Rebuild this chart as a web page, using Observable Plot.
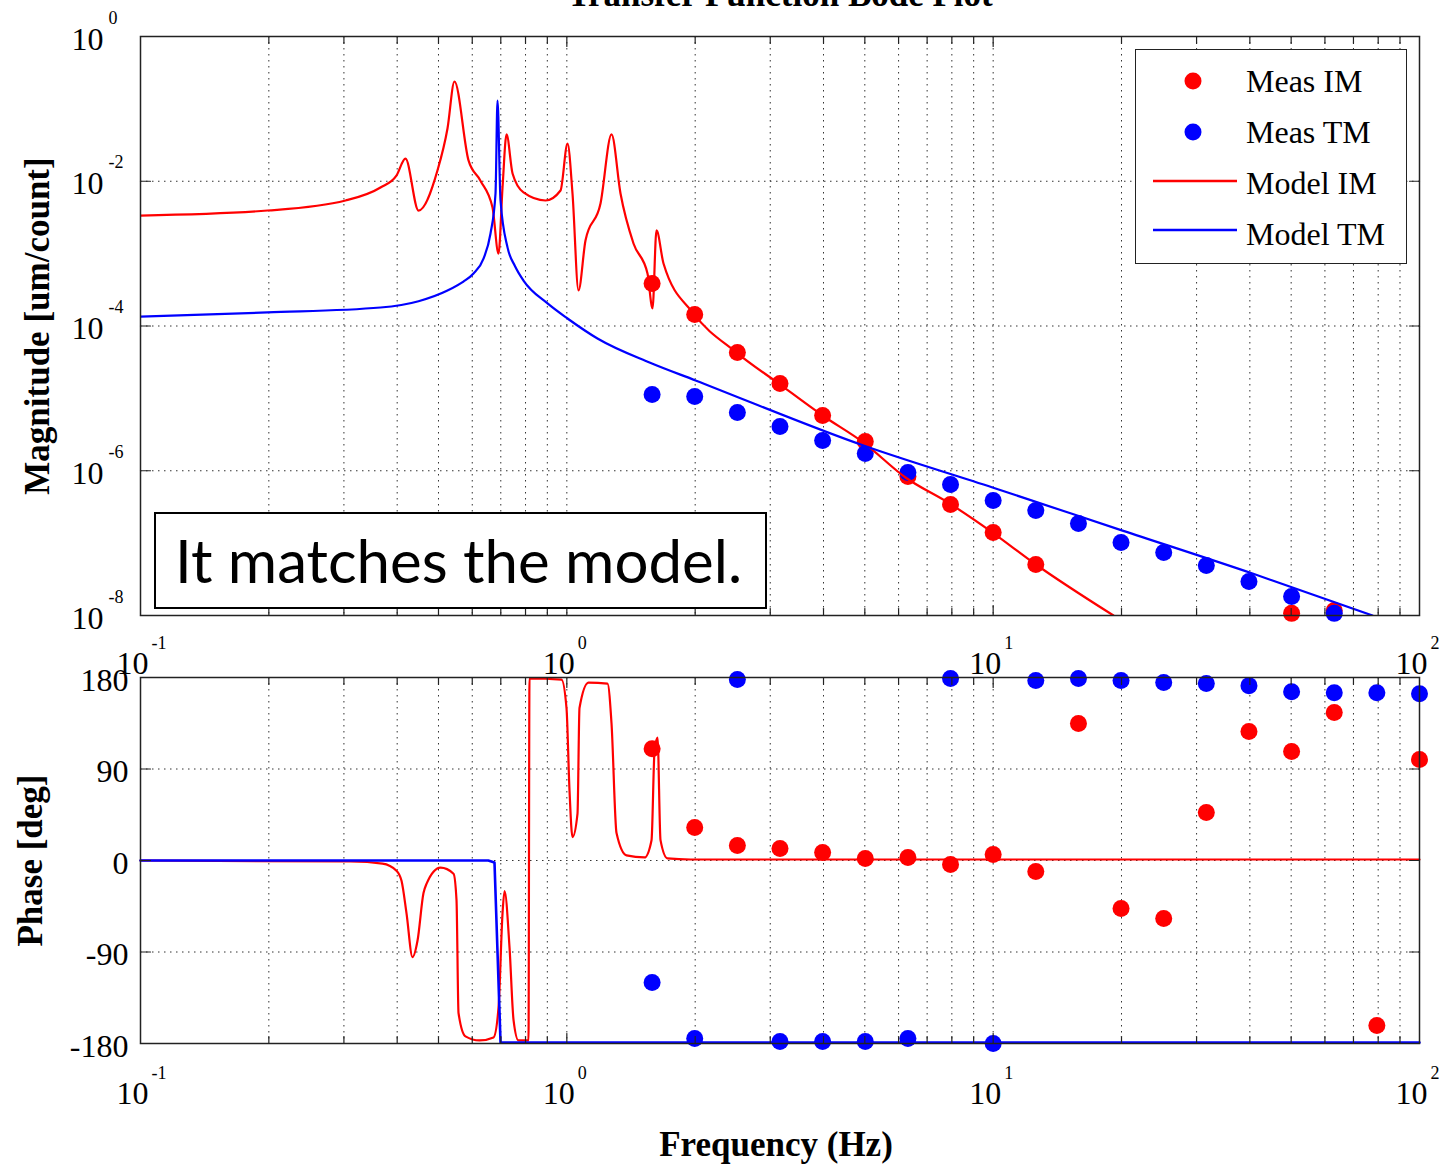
<!DOCTYPE html>
<html>
<head>
<meta charset="utf-8">
<script src="https://cdn.jsdelivr.net/npm/d3@7"></script>
<script src="https://cdn.jsdelivr.net/npm/@observablehq/plot@0.6"></script>
<style>
  html, body { margin: 0; padding: 0; background: #fff; overflow: hidden; }
  #wrap { position: relative; width: 1445px; height: 1164px; }
  #bot, #top { position: absolute; left: 0; }
  #top { top: 0; }
  #bot { top: 600px; }
  #note {
    position: absolute; left: 154px; top: 512px; width: 590px; height: 93px;
    border: 2px solid #000; background: #fff;
    font-family: Lato, "Open Sans", sans-serif; font-size: 60px; line-height: 93px;
    padding-left: 19px; box-sizing: content-box; white-space: nowrap;
  }
  #legend {
    position: absolute; left: 1135px; top: 49px; width: 270px; height: 213px;
    border: 1.5px solid #222; background: #fff;
  }
  .lg-item { position: absolute; left: 0; height: 40px; width: 270px; }
  .lg-item svg { position: absolute; left: 0; top: 0; }
  .lg-item span {
    position: absolute; left: 110px; top: 0; line-height: 40px;
    font-family: "Liberation Serif", serif; font-size: 32px; color: #000; white-space: nowrap;
  }
</style>
</head>
<body>
<div id="wrap">
  <div id="bot"></div>
  <div id="top"></div>
  <div id="note">It matches the model.</div>
  <div id="legend"></div>
</div>
<script>
// ---------- data ----------
// Model IM magnitude
const modelFreqIM = [0.1, 0.1986, 0.3027, 0.3655, 0.3984, 0.4183, 0.4489, 0.4972, 0.5249, 0.5451,
  0.5880, 0.6271, 0.6694, 0.6914, 0.7066, 0.7221, 0.7459, 0.7913, 0.8913, 0.9665,
  1.0037, 1.0311, 1.0651, 1.1060, 1.1995, 1.2729, 1.3363, 1.4334, 1.5460, 1.5885,
  1.6229, 1.6856, 1.9823, 2.500, 3.137, 3.979, 4.964, 6.229, 7.901, 9.966, 12.50, 19.15];
const modelMagIM = [3.36e-3, 3.94e-3, 5.42e-3, 8.20e-3, 1.20e-2, 2.06e-2, 3.94e-3, 1.41e-2, 5.36e-2, 0.239,
  1.94e-2, 1.02e-2, 4.34e-3, 1.00e-3, 8.20e-3, 4.43e-2, 1.28e-2, 7.00e-3, 5.42e-3, 7.45e-3,
  3.32e-2, 6.77e-3, 3.10e-4, 1.52e-3, 4.93e-3, 4.43e-2, 6.77e-3, 1.38e-3, 5.31e-4, 1.75e-4,
  2.09e-3, 7.31e-4, 1.49e-4, 4.30e-5, 1.61e-5, 5.80e-6, 2.45e-6, 8.07e-7, 3.53e-7, 1.40e-7, 5.23e-8, 1.0e-8];

// Model TM magnitude
const modelFreqTM = [0.1, 0.1986, 0.3655, 0.4489, 0.5249, 0.5720, 0.6041, 0.6380, 0.6622, 0.6803, 0.6877,
  0.6990, 0.7259, 0.7550, 0.7913, 0.9010, 1.0037, 1.180, 1.563, 2.004, 4.964, 9.966, 20.11, 40.59, 77.6];
const modelMagTM = [1.35e-4, 1.54e-4, 1.80e-4, 2.20e-4, 3.09e-4, 4.10e-4, 5.31e-4, 8.60e-4, 1.90e-3, 6.77e-3, 0.130,
  5.42e-3, 1.22e-3, 6.80e-4, 4.25e-4, 2.05e-4, 1.27e-4, 6.72e-5, 3.13e-5, 1.77e-5, 2.23e-6, 5.87e-7, 1.49e-7, 3.80e-8, 1.0e-8];

// Model IM phase
const modelPhaseFreqIM = [0.1, 0.3109, 0.3695, 0.3984, 0.4095, 0.4207, 0.4345, 0.4464, 0.4611, 0.4686,
  0.5055, 0.5423, 0.5511, 0.5571, 0.5784, 0.6239, 0.6730, 0.6914, 0.7066, 0.7143,
  0.7339, 0.7499, 0.7703, 0.8130, 0.8173, 0.9716, 0.9982, 1.0145, 1.0311, 1.0593,
  1.0708, 1.1240, 1.2457, 1.2729, 1.3078, 1.3804, 1.5214, 1.5800, 1.6058, 1.6321,
  1.6586, 1.7223, 1.9506, 100];
const modelPhaseIM = [0, -1, -3, -10, -20, -52, -95, -79, -32, -23,
  -7, -13, -39, -150, -173, -177, -174, -145, -52, -30,
  -86, -157, -177, -177, 179, 178, 150, 69, 23, 46,
  150, 175, 174, 135, 27, 5, 3, 20, 108, 121,
  20, 2, 1, 1];

// Model TM phase
const modelPhaseFreqTM = [0.1, 0.6541, 0.6766, 0.6877, 0.6990, 100];
const modelPhaseTM = [0, 0, -2, -90, -179, -179];

// Measurements
const measFreq = [1.585, 1.995, 2.512, 3.162, 3.981, 5.012, 6.310, 7.943, 10.0, 12.59,
  15.85, 19.95, 25.12, 31.62, 39.81, 50.12, 63.10, 79.43, 100.0];
const measMagIM = [3.86e-4, 1.44e-4, 4.30e-5, 1.60e-5, 5.80e-6, 2.54e-6, 8.30e-7, 3.42e-7, 1.40e-7, 5.07e-8,
  null, null, null, null, null, 1.07e-8, 1.17e-8, null, null];
const measMagTM = [1.13e-5, 1.06e-5, 6.38e-6, 4.09e-6, 2.62e-6, 1.73e-6, 9.45e-7, 6.46e-7, 3.88e-7, 2.82e-7,
  1.87e-7, 1.02e-7, 7.42e-8, 4.91e-8, 2.95e-8, 1.83e-8, 1.07e-8, null, null];
const measPhaseIM = [110, 32.5, 14.8, 11.8, 7.9, 2.0, 3.0, -3.9, 5.9, -10.8,
  134.8, -47.2, -57.0, 47.2, 126.9, 107.2, 145.6, -162.3, 99.3];
const measPhaseTM = [-120, -175, 178, -178, -178, -178, -175, 179, -180, 177,
  179, 177, 175, 174, 172, 166, 165, 165, 164];

// Ticks and labels
const freqMajor = [0.1, 1, 10, 100];
const freqMajorExp = ["-1", "0", "1", "2"];
const freqMinor = [0.2, 0.3, 0.4, 0.5, 0.6, 0.7, 0.8, 0.9, 2, 3, 4, 5, 6, 7, 8, 9, 20, 30, 40, 50, 60, 70, 80, 90];
const freqGrid = [0.2, 0.3, 0.4, 0.5, 0.6, 0.7, 0.8, 0.9, 1, 2, 3, 4, 5, 6, 7, 8, 9, 10, 20, 30, 40, 50, 60, 70, 80, 90];
const magTicks = [1, 1e-2, 1e-4, 1e-6, 1e-8];
const magTickExp = ["0", "-2", "-4", "-6", "-8"];
const magGrid = [1e-2, 1e-4, 1e-6];
const phaseTicks = [180, 90, 0, -90, -180];
const phaseGrid = [90, 0, -90];

const legendLabels = ["Meas IM", "Meas TM", "Model IM", "Model TM"];
const legendKinds = ["dot", "dot", "line", "line"];
const legendColors = ["#ff0000", "#0000ff", "#ff0000", "#0000ff"];

// ---------- build ----------
const RED = "#ff0000", BLUE = "#0000ff", INK = "#222";
const serif = "Liberation Serif";
const rows = (xs, ys) => xs.map((f, i) => ({f, v: ys[i]})).filter(d => d.v != null);

const gridStyle = {stroke: "#333", strokeOpacity: 1, strokeDasharray: "1.5,4.5", strokeWidth: 1};
const tickShape = {draw(context, l) { context.moveTo(0, 0); context.lineTo(0, -l); }};
const tick = (data, opts) => Plot.vector(data, {anchor: "start", shape: tickShape, stroke: INK, strokeWidth: 1.2, ...opts});

function frameTicks(yMajor) {
  return [
    tick(freqMinor, {x: d => d, frameAnchor: "bottom", length: 7, rotate: 0}),
    tick(freqMinor, {x: d => d, frameAnchor: "top", length: 7, rotate: 180}),
    tick([1, 10], {x: d => d, frameAnchor: "bottom", length: 10, rotate: 0}),
    tick([1, 10], {x: d => d, frameAnchor: "top", length: 10, rotate: 180}),
    tick(yMajor, {y: d => d, frameAnchor: "left", length: 10, rotate: 90}),
    tick(yMajor, {y: d => d, frameAnchor: "right", length: 10, rotate: -90})
  ];
}
function freqLabels(dy10, dyExp) {
  return [
    Plot.text(freqMajor, {x: d => d, frameAnchor: "bottom", text: () => "10", textAnchor: "end",
      lineAnchor: "bottom", dx: 8, dy: dy10, fontSize: 32, fill: "#000"}),
    Plot.text(freqMajor, {x: d => d, frameAnchor: "bottom", text: (d, i) => freqMajorExp[i], textAnchor: "start",
      lineAnchor: "bottom", dx: 11, dy: dyExp, fontSize: 18, fill: "#000"})
  ];
}

const topPlot = Plot.plot({
  width: 1445, height: 680,
  marginLeft: 140, marginRight: 26, marginTop: 36, marginBottom: 65,
  x: {type: "log", domain: [0.1, 100], axis: null},
  y: {type: "log", domain: [1e-8, 1], axis: null},
  style: {background: "transparent", overflow: "visible", fontFamily: serif, color: "#000"},
  marks: [
    Plot.gridX(freqGrid, gridStyle),
    Plot.gridY(magGrid, gridStyle),
    Plot.dot(rows(measFreq, measMagIM), {x: "f", y: "v", r: 8.5, fill: RED, stroke: null}),
    Plot.dot(rows(measFreq, measMagTM), {x: "f", y: "v", r: 8.5, fill: BLUE, stroke: null}),
    Plot.line(rows(modelFreqIM, modelMagIM), {x: "f", y: "v", stroke: RED, strokeWidth: 2.2, clip: true, curve: "monotone-x"}),
    Plot.line(rows(modelFreqTM, modelMagTM), {x: "f", y: "v", stroke: BLUE, strokeWidth: 2.2, clip: true, curve: "monotone-x"}),
    Plot.frame({stroke: INK, strokeWidth: 1.5}),
    ...frameTicks(magTicks),
    Plot.text(magTicks, {y: d => d, frameAnchor: "left", text: () => "10", textAnchor: "end",
      lineAnchor: "bottom", dx: -37, dy: 13, fontSize: 32, fill: "#000"}),
    Plot.text(magTicks, {y: d => d, frameAnchor: "left", text: (d, i) => magTickExp[i], textAnchor: "start",
      lineAnchor: "bottom", dx: -32, dy: -13, fontSize: 18, fill: "#000"}),
    ...freqLabels(58, 33),
    Plot.text(["Magnitude [um/count]"], {frameAnchor: "left", text: d => d, rotate: -90, dx: -103,
      textAnchor: "middle", lineAnchor: "middle", fontWeight: "bold", fontSize: 35, fill: "#000"}),
    Plot.text(["Transfer Function Bode Plot"], {frameAnchor: "top", text: d => d, lineAnchor: "bottom",
      textAnchor: "middle", dy: -31, fontWeight: "bold", fontSize: 35, fill: "#000"})
  ]
});

const botPlot = Plot.plot({
  width: 1445, height: 564,
  marginLeft: 140, marginRight: 26, marginTop: 77, marginBottom: 121,
  x: {type: "log", domain: [0.1, 100], axis: null},
  y: {domain: [-180, 180], axis: null},
  style: {background: "transparent", overflow: "visible", fontFamily: serif, color: "#000"},
  marks: [
    Plot.gridX(freqGrid, gridStyle),
    Plot.gridY(phaseGrid, gridStyle),
    Plot.line(rows(modelPhaseFreqIM, modelPhaseIM), {x: "f", y: "v", stroke: RED, strokeWidth: 2.2, curve: "monotone-x"}),
    Plot.line(rows(modelPhaseFreqTM, modelPhaseTM), {x: "f", y: "v", stroke: BLUE, strokeWidth: 2.6}),
    Plot.dot(rows(measFreq, measPhaseIM), {x: "f", y: "v", r: 8.5, fill: RED, stroke: null}),
    Plot.dot(rows(measFreq, measPhaseTM), {x: "f", y: "v", r: 8.5, fill: BLUE, stroke: null}),
    Plot.frame({stroke: INK, strokeWidth: 1.5}),
    ...frameTicks(phaseTicks),
    Plot.text(phaseTicks, {y: d => d, frameAnchor: "left", text: d => String(d), textAnchor: "end",
      lineAnchor: "bottom", dx: -12, dy: 13, fontSize: 32, fill: "#000"}),
    ...freqLabels(60, 35),
    Plot.text(["Phase [deg]"], {frameAnchor: "left", text: d => d, rotate: -90, dx: -110,
      textAnchor: "middle", lineAnchor: "middle", fontWeight: "bold", fontSize: 35, fill: "#000"}),
    Plot.text(["Frequency (Hz)"], {frameAnchor: "bottom", text: d => d, lineAnchor: "bottom",
      textAnchor: "middle", dy: 112, dx: -4, fontWeight: "bold", fontSize: 35, fill: "#000"})
  ]
});

document.getElementById("top").appendChild(topPlot);
document.getElementById("bot").appendChild(botPlot);

// legend
const legend = document.getElementById("legend");
const rowTops = [11, 62, 113, 164];
legendLabels.forEach((label, i) => {
  const item = document.createElement("div");
  item.className = "lg-item";
  item.style.top = rowTops[i] + "px";
  const sym = legendKinds[i] === "dot"
    ? `<circle cx="57" cy="20" r="8.5" fill="${legendColors[i]}"/>`
    : `<line x1="17" x2="101" y1="${i === 2 ? 18 : 16}" y2="${i === 2 ? 18 : 16}" stroke="${legendColors[i]}" stroke-width="2.5"/>`;
  item.innerHTML = `<svg width="110" height="40">${sym}</svg><span>${label}</span>`;
  legend.appendChild(item);
});
</script>
</body>
</html>
